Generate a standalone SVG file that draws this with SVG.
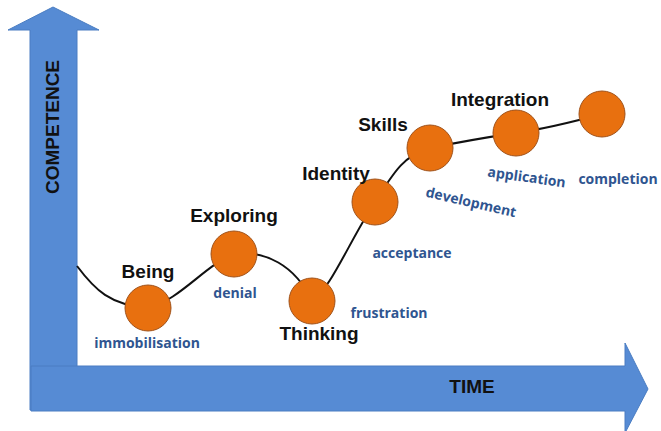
<svg xmlns="http://www.w3.org/2000/svg" width="661" height="431" viewBox="0 0 661 431">
  <style>
    .axis { fill: #568BD4; stroke: #4A7DC2; stroke-width: 1; }
    .axis-label { font-family: "Liberation Sans", Arial, sans-serif; font-weight: bold; font-size: 19px; fill: #111; }
    .stage { fill: #E8700F; stroke: #A0521A; stroke-width: 1; }
    .title { font-family: "Liberation Sans", Arial, sans-serif; font-weight: bold; font-size: 19px; fill: #111; }
    .note { font-family: "Open Sans", "Liberation Sans", sans-serif; font-weight: bold; font-size: 14px; fill: #2F5590; }
    .curve { fill: none; stroke: #111; stroke-width: 2; }
  </style>

  <!-- axes -->
  <g id="axis-competence">
    <polygon class="axis" points="30,410 30,30 8,30 53,7 99,30 77,30 77,410"/>
    <text class="axis-label" transform="translate(59,127) rotate(-90)" text-anchor="middle">COMPETENCE</text>
  </g>
  <g id="axis-time">
    <polygon class="axis" points="31,366 625,366 625,343 648,389 625,433 625,411 31,411"/>
    <text class="axis-label" x="472" y="393" text-anchor="middle">TIME</text>
  </g>

  <!-- progression curve -->
  <g id="connectors">
    <path class="curve" d="M77,266 C95,290 110,305 148,308 C180,300 205,265 234,254 C265,250 295,265 312,301 C330,290 350,240 375,202 C395,170 405,155 430,148 C470,140 495,136 516,133 C550,128 580,120 602,114"/>
  </g>

  <!-- stages -->
  <g id="being">
    <circle class="stage" cx="148" cy="308" r="23"/>
    <text class="title" x="148" y="278" text-anchor="middle">Being</text>
    <text class="note" x="147" y="348" text-anchor="middle">immobilisation</text>
  </g>
  <g id="exploring">
    <circle class="stage" cx="234" cy="254" r="23"/>
    <text class="title" x="234" y="222" text-anchor="middle">Exploring</text>
    <text class="note" x="235" y="298" text-anchor="middle">denial</text>
  </g>
  <g id="thinking">
    <circle class="stage" cx="312" cy="301" r="23"/>
    <text class="title" x="319" y="340" text-anchor="middle">Thinking</text>
    <text class="note" x="389" y="318" text-anchor="middle">frustration</text>
  </g>
  <g id="identity">
    <circle class="stage" cx="375" cy="202" r="23"/>
    <text class="title" x="336" y="180" text-anchor="middle">Identity</text>
    <text class="note" x="412" y="258" text-anchor="middle">acceptance</text>
  </g>
  <g id="skills">
    <circle class="stage" cx="430" cy="148" r="23"/>
    <text class="title" x="383" y="131" text-anchor="middle">Skills</text>
    <text class="note" transform="translate(470,207) rotate(13)" text-anchor="middle">development</text>
  </g>
  <g id="integration">
    <circle class="stage" cx="516" cy="133" r="23"/>
    <text class="title" x="500" y="106" text-anchor="middle">Integration</text>
    <text class="note" transform="translate(526,182) rotate(8)" text-anchor="middle">application</text>
  </g>
  <g id="completion">
    <circle class="stage" cx="602" cy="114" r="23"/>
    <text class="note" x="618" y="184" text-anchor="middle">completion</text>
  </g>
</svg>
